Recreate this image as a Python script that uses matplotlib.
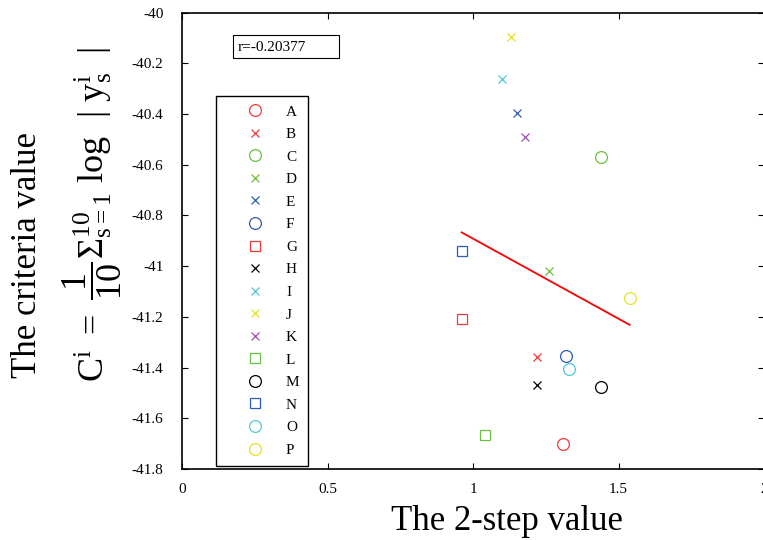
import numpy as np
import matplotlib
matplotlib.use('Agg')
import matplotlib.pyplot as plt
from matplotlib.patches import Rectangle

plt.rcParams['font.family'] = ['Liberation Serif', 'DejaVu Serif']
plt.rcParams['mathtext.fontset'] = 'custom'
plt.rcParams['mathtext.rm'] = 'Liberation Serif'
plt.rcParams['mathtext.it'] = 'Liberation Serif'
plt.rcParams['mathtext.bf'] = 'Liberation Serif:bold'
plt.rcParams['axes.unicode_minus'] = False

# one point per case: 2-step value vs. criteria value
names = ['A', 'B', 'C', 'D', 'E', 'F', 'G', 'H',
         'I', 'J', 'K', 'L', 'M', 'N', 'O', 'P']
two_step = [1.310, 1.221, 1.441, 1.260, 1.150, 1.320, 0.961, 1.221,
            1.101, 1.129, 1.180, 1.041, 1.441, 0.961, 1.330, 1.538]
criteria = [-41.703, -41.360, -40.570, -41.019, -40.397, -41.355, -41.207, -41.470,
            -40.263, -40.095, -40.491, -41.665, -41.477, -40.939, -41.405, -41.127]
markers = ['o', 'x', 'o', 'x', 'x', 'o', 's', 'x',
           'x', 'x', 'x', 's', 'o', 's', 'o', 'o']
red, green, blue = '#f03a3a', '#6cc040', '#2c5cb4'
cyan, yellow, purple = '#50c8dc', '#e8e020', '#a050b0'
colors = [red, red, green, green, blue, blue, red, 'black',
          cyan, yellow, purple, green, 'black', blue, cyan, yellow]
r_value = -0.20377

W, H = 763, 540
fig = plt.figure(figsize=(W / 100, H / 100), dpi=100)
# axes box in pixels: x 182..764, y 12.5..469
ax = fig.add_axes([182 / W, (H - 469) / H, (764 - 182) / W, (469 - 12.5) / H])

for n, x, y, m, c in zip(names, two_step, criteria, markers, colors):
    ms = {'o': 8.5, 'x': 5.5, 's': 7}[m]
    ax.plot(x, y, ls='none', marker=m, ms=ms, mfc='none', mec=c, mew=0.9, label=n)

# least squares line over the data range
coef = np.polyfit(two_step, criteria, 1)
xs = np.array([min(two_step), max(two_step)])
ax.plot(xs, np.polyval(coef, xs), color='red', lw=1.3)

ax.set_xlim(0, 2)
ax.set_ylim(-41.8, -40)
ax.set_xticks([0, 0.5, 1, 1.5, 2])
ax.set_xticklabels(['0', '0.5', '1', '1.5', '2'])
ax.set_yticks(np.arange(-41.8, -39.99, 0.2))
ax.set_yticklabels(['-41.8', '-41.6', '-41.4', '-41.2', '-41', '-40.8',
                    '-40.6', '-40.4', '-40.2', '-40'])
ax.tick_params(direction='in', length=4.5, width=0.8, labelsize=11,
               top=True, right=True)
ax.tick_params(axis='y', pad=13.5)
ax.tick_params(axis='x', pad=10)
for s in ax.spines.values():
    s.set_linewidth(1.2)

# correlation box
ax.add_patch(Rectangle((0.0876, 0.9003), 0.1822, 0.0504, transform=ax.transAxes,
                       fill=False, ec='black', lw=0.8))
ax.text(0.0962, 0.9244, 'r={}'.format(r_value), transform=ax.transAxes,
        ha='left', va='center', fontsize=11)

leg = ax.legend(loc='upper left', bbox_to_anchor=(0.0584, 0.817), borderaxespad=0,
                fontsize=11, labelspacing=0.58, handlelength=3.9, handletextpad=0.1,
                borderpad=0.58, fancybox=False, framealpha=1, edgecolor='black',
                numpoints=1)
leg.get_frame().set_linewidth(1.0)

fig.text(507 / W, (H - 530) / H, 'The 2-step value', ha='center', va='baseline',
         fontsize=25)
fig.text(28 / W, (H - 378) / H, 'The criteria value', rotation=90,
         ha='center', va='bottom', fontsize=25)
fig.text(92 / W, (H - 382) / H,
         r'$\mathrm{C}^{\mathrm{i}}\ =\ \dfrac{1}{10}\Sigma^{10}_{\mathrm{s=1}}\ '
         r'\mathrm{log}\ \ |\ \mathrm{y}^{\mathrm{i}}_{\mathrm{s}}\ \ |$',
         rotation=90, ha='center', va='bottom', fontsize=26)

fig.savefig('out.png', dpi=100)
